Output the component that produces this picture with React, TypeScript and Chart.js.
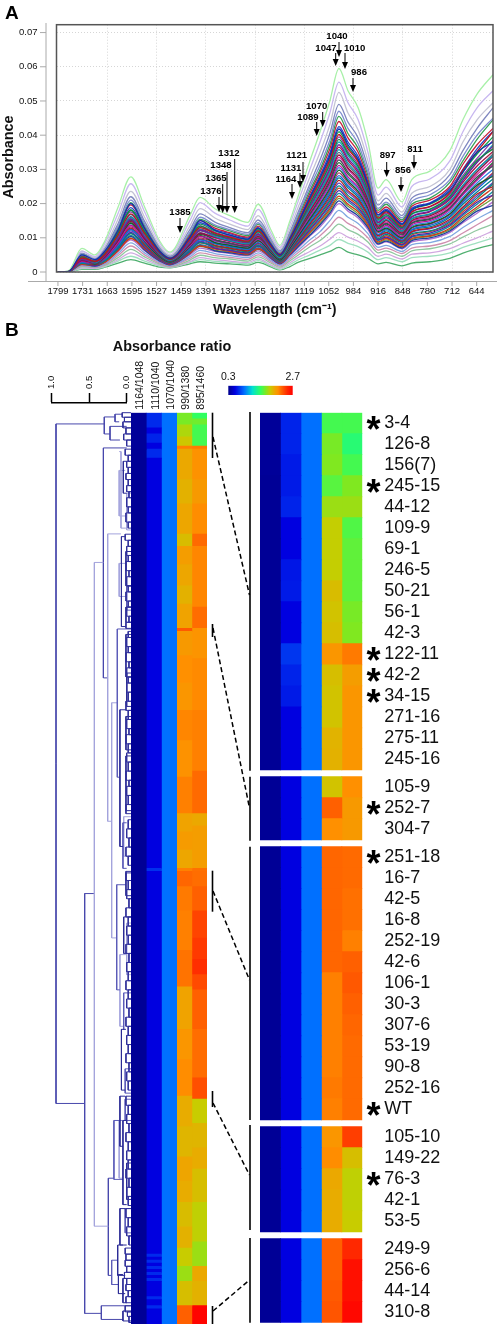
import React, { useEffect, useRef } from "react";
import { Chart, registerables } from "chart.js";

Chart.register(...registerables);
Chart.defaults.font.family = "'Liberation Sans', Arial, sans-serif";
Chart.defaults.color = "#111";

// ---------- Panel A data (absorbance x 1e-4 at each wavenumber) ----------
const wavenumbers = [1799,1770,1733,1697,1669,1633,1598,1560,1518,1490,1435,1407,1366,1325,1275,1247,1210,1187,1159,1137,1104,1076,1049,1024,999,971,944,916,894,850,823,773,718,682,643,599];
const xTickLabels = [1799,1731,1663,1595,1527,1459,1391,1323,1255,1187,1119,1052,984,916,848,780,712,644];
const yTickValues = [0,0.01,0.02,0.03,0.04,0.05,0.06,0.07];
const spectra = [
[0,3,69,50,92,190,278,190,90,58,165,218,185,165,145,198,120,78,150,220,325,410,500,595,530,480,380,245,270,205,270,295,355,445,520,577],
[0,3,60,45,85,172,258,176,84,55,150,203,172,152,134,183,110,72,140,205,300,380,465,555,495,445,350,225,248,190,250,272,325,410,480,530],
[0,2,62,42,76,155,236,160,76,50,135,185,158,140,124,165,100,66,128,188,278,350,430,525,465,415,325,208,230,175,230,250,300,380,445,495],
[0,2,55,40,70,142,220,148,72,47,124,170,146,130,115,152,94,62,118,174,258,328,405,490,438,392,306,196,216,165,216,236,285,355,420,480],
[0,2,50,37,66,134,210,140,68,45,116,160,138,124,110,144,88,58,112,166,248,312,385,470,420,375,292,186,204,158,206,226,270,338,400,450],
[0,2,52,36,64,130,203,136,66,44,113,154,134,120,106,140,86,57,108,160,238,300,372,455,405,362,283,180,198,152,198,216,262,325,388,445],
[0,2,46,35,60,124,196,130,64,42,108,150,128,115,102,134,82,54,104,154,230,292,360,440,392,350,272,174,190,147,192,210,250,315,372,420],
[0,2,48,34,58,120,188,125,62,41,104,144,124,112,99,130,80,52,100,148,222,282,348,425,380,338,264,168,184,142,186,202,244,300,360,412],
[0,1,44,33,56,116,182,120,60,40,100,140,120,108,95,125,77,50,96,144,214,272,335,410,366,325,255,162,178,138,180,198,235,292,345,395],
[0,1,42,31,54,112,176,116,58,38,97,135,116,104,92,122,74,48,93,138,206,262,322,395,352,314,246,156,172,132,174,190,228,282,332,385],
[0,1,43,30,52,108,168,112,56,37,93,130,112,100,88,116,72,47,90,134,198,252,312,380,340,302,236,150,165,128,168,182,218,270,322,372],
[0,1,38,29,50,104,162,108,54,36,90,125,108,97,85,112,69,45,86,128,190,242,298,365,326,290,226,144,158,122,160,176,212,262,310,352],
[0,1,40,28,48,100,156,104,52,34,86,120,103,93,82,108,66,43,83,123,182,232,286,350,312,278,218,138,152,118,154,168,202,250,298,345],
[0,1,36,27,46,96,150,100,50,33,83,115,99,89,78,103,63,41,80,118,175,222,274,335,300,266,208,132,146,113,148,160,194,240,285,328],
[0,1,34,26,44,92,144,96,48,32,79,110,95,85,75,99,60,39,76,112,167,212,262,320,286,255,198,126,140,108,142,154,186,228,272,320],
[0,1,32,25,42,88,138,92,46,31,76,105,90,81,71,94,57,37,73,107,159,202,250,305,272,243,190,120,132,102,134,146,176,218,260,300],
[0,1,30,24,40,84,132,88,44,29,72,100,86,77,68,90,54,35,69,102,152,192,238,290,260,230,180,115,126,98,128,140,168,208,248,290],
[0,1,29,23,38,80,125,84,42,28,69,95,82,73,64,85,51,33,66,97,144,182,226,275,246,218,170,108,120,92,122,132,160,198,234,272],
[0,1,27,22,36,76,120,80,40,26,65,90,77,69,61,80,48,31,62,92,136,172,214,260,232,206,162,102,114,88,116,126,150,186,222,262],
[0,1,26,21,34,72,113,75,38,25,61,85,73,65,57,76,45,29,59,86,128,162,202,245,218,194,152,96,106,82,108,118,142,176,210,245],
[0,1,24,20,32,68,107,71,36,24,58,80,69,61,54,71,43,27,55,81,120,152,190,230,206,182,143,92,100,78,102,110,134,166,198,235],
[0,1,22,19,30,64,100,67,34,22,54,75,64,58,50,66,40,25,52,76,113,142,178,215,192,170,134,85,94,72,95,104,124,154,184,215],
[0,1,21,18,28,60,94,62,32,21,50,70,60,54,47,62,37,23,48,70,105,132,166,200,178,158,124,80,88,68,88,96,116,144,172,205],
[0,0,19,16,25,54,85,56,29,19,45,63,54,48,42,56,33,20,43,63,94,118,150,180,160,142,112,72,78,60,80,86,104,130,155,180],
[0,0,17,14,23,48,76,50,26,17,40,56,48,43,37,50,29,17,38,56,84,106,133,160,142,126,100,64,70,54,70,76,92,114,138,165],
[0,0,15,13,20,42,66,44,23,15,35,49,42,38,32,44,25,14,33,49,74,92,116,140,124,110,88,56,62,46,62,68,82,102,122,140],
[0,0,12,11,18,36,56,38,20,14,30,42,36,32,28,38,20,11,27,42,60,76,96,115,102,90,72,46,52,38,52,56,68,84,100,120],
[0,0,10,10,16,32,46,32,18,13,28,36,31,28,24,33,17,8,22,35,50,64,78,95,84,74,58,36,42,30,42,46,56,72,85,100],
[0,0,8,8,14,26,36,26,14,12,24,30,26,24,20,28,14,6,16,28,40,50,60,72,58,50,40,24,28,18,26,30,40,55,68,80],
];
const spectraMid = [
[0,1,50,36,62,122,200,128,60,40,102,150,122,108,96,128,78,50,98,142,218,276,340,418,372,330,258,166,180,140,182,200,238,292,350,380],
[0,1,41,31,52,108,170,112,58,38,95,130,114,102,90,120,74,49,94,140,210,266,328,402,360,322,252,158,176,134,176,192,232,298,352,410],
[0,1,44,30,54,114,180,118,56,37,98,134,110,100,88,118,72,46,90,132,200,256,316,388,346,308,240,154,168,130,170,184,222,276,326,360],
[0,1,36,29,48,98,155,102,54,36,88,122,108,96,86,110,70,47,88,130,194,246,304,372,332,296,230,146,162,126,162,178,216,268,320,368],
[0,1,39,27,49,102,160,106,52,34,87,124,104,92,82,110,66,42,84,124,186,236,292,358,318,284,222,140,154,120,156,170,206,254,300,340],
[0,1,33,28,45,94,148,98,50,33,82,112,101,90,80,104,64,42,82,120,178,226,280,342,304,272,212,134,150,114,150,164,198,246,292,338],
[0,1,37,25,44,96,152,98,47,31,80,114,94,84,75,100,60,38,77,114,170,216,268,328,292,260,204,130,142,110,144,156,188,232,278,310],
[0,1,31,26,41,86,136,92,48,32,76,104,92,83,74,96,59,39,75,110,163,208,256,312,278,248,194,122,136,104,138,150,182,226,268,315],
[0,1,34,23,42,90,142,90,44,29,74,106,86,78,70,92,55,35,70,104,155,198,244,298,266,236,186,118,128,100,130,142,170,212,254,280],
[0,1,28,24,37,78,124,86,43,28,68,94,84,75,66,86,53,34,68,100,148,188,232,282,252,224,176,110,124,94,124,136,164,204,242,285],
[0,1,30,21,38,82,128,80,40,26,68,96,78,70,62,84,50,32,64,94,140,178,220,268,238,212,166,106,116,90,118,128,154,190,228,250],
[0,1,25,22,33,70,112,78,39,26,62,86,76,68,59,78,47,30,60,90,132,168,208,252,224,200,156,98,110,86,112,120,146,182,216,258],
[0,1,27,19,34,72,116,72,36,24,60,88,70,63,56,76,44,28,58,84,124,158,196,238,212,188,148,94,102,80,104,114,138,170,204,225],
[0,1,22,20,29,62,98,68,35,23,55,76,68,60,52,68,42,26,53,80,116,148,184,222,198,176,138,88,98,74,98,106,128,160,190,225],
[0,1,24,17,30,66,104,64,32,21,54,78,62,56,50,68,39,24,50,74,108,138,172,208,184,164,130,82,90,70,92,100,120,148,178,195],
];
const spectraColors = ["#a8f0a8","#c8b8f0","#c4c4d4","#8088c0","#7f8fd0","#38a058","#c8203c","#2848c8","#18a050","#8838a8","#18a8b8","#a81848","#5a6a78","#d828a8","#207038","#3080e0","#b03060","#00808a","#6040c0","#d04020","#1890a0","#70a040","#b070d0","#80a8e0","#d090b0","#90c8a0","#d0a8e0","#a0e0c0","#50b070"];
const spectraMidColors = ["#1030b0","#c01020","#108840","#7020a0","#0898b0","#901040","#404858","#c010a0","#106028","#1868d8","#b02020","#008880","#4828b0","#d03818","#2040a0"];
// label, text centre x, text y, arrow x, arrow start y, arrow tip y (page pixels)
const peakNotes: [string, number, number, number, number, number][] = [
["1385",180,212,180,218,233],["1376",211,191,219,197,212],["1365",216,178,222.7,184,213],["1348",221,165,227,172,213],["1312",229,153,234.7,159,213],
["1040",337,36,339,42,57],["1047",326,48,335.7,53,66],["1010",354.7,48,345,53,69],["986",359,72,353,78,92],["1070",316.7,106,322.7,112,127],["1089",308,117,316.7,122,136],
["1121",296.7,155,303,162,182],["1131",291,168,300,173,188],["1164",286,179,292,184,199],["897",387.7,155,386.7,162,177],["856",403,170,401,177,192],["811",415,149,414,155,169],
];

// ---------- Panel B: colour scale ----------
const colourStops: [number, string][] = [[0.3,"#00008c"],[0.55,"#0000e0"],[0.9,"#0070ff"],[1.2,"#00e0d0"],[1.5,"#30ff60"],[1.7,"#80e820"],[1.86,"#c8cc00"],[2.0,"#e8ac00"],[2.15,"#ff9000"],[2.3,"#ff6000"],[2.5,"#ff2800"],[2.7,"#ff0000"]];
const ratioLabels = ["1164/1048","1110/1040","1070/1040","990/1380","895/1460"];

// ---------- Overview heat map: [ratio value, number of consecutive rows] per column ----------
const overviewCol1: [number, number][] = [[0.34,12],[0.33,288]];
const overviewCol2: [number, number][] = [[0.68,5],[0.55,2],[0.66,3],[0.55,2],[0.68,3],[0.55,135],[0.7,1],[0.55,126],[0.68,1],[0.55,1],[0.68,1],[0.55,1],[0.68,1],[0.55,1],[0.68,1],[0.55,1],[0.68,1],[0.55,5],[0.68,1],[0.55,2],[0.68,1],[0.55,5]];
const overviewCol3: [number, number][] = [[0.9,300]];
const overviewCol4: [number, number][] = [[1.68,4],[1.8,4],[1.88,3],[2.2,1],[2.02,10],[1.98,8],[2.03,10],[1.93,4],[2.08,6],[2.03,7],[1.98,6],[2.05,8],[2.32,1],[2.1,8],[2.15,9],[2.12,9],[2.18,10],[2.14,12],[2.2,12],[2.05,6],[2.09,6],[2.03,6],[2.2,1],[2.28,5],[2.22,8],[2.2,13],[2.24,12],[2.05,14],[2.12,10],[2.16,12],[2.0,10],[1.96,10],[2.04,8],[2.0,7],[1.93,8],[1.98,7],[1.86,6],[1.76,5],[1.92,8],[2.3,6]];
const overviewCol5: [number, number][] = [[1.5,2],[1.66,2],[1.55,7],[2.22,1],[2.14,10],[2.1,8],[2.16,10],[2.27,4],[2.18,20],[2.26,7],[2.13,10],[2.17,17],[2.2,20],[2.27,14],[2.02,4],[2.08,14],[2.25,1],[2.26,5],[2.3,8],[2.4,9],[2.44,7],[2.48,5],[2.38,5],[2.3,13],[2.26,16],[2.36,7],[1.86,8],[1.96,8],[2.0,7],[1.92,11],[1.84,13],[1.76,8],[2.02,5],[1.98,8],[2.68,6]];
const overviewCols = [overviewCol1, overviewCol2, overviewCol3, overviewCol4, overviewCol5];

// ---------- Detail heat map ----------
const sampleGroups = [
["3-4","126-8","156(7)","245-15","44-12","109-9","69-1","246-5","50-21","56-1","42-3","122-11","42-2","34-15","271-16","275-11","245-16"],
["105-9","252-7","304-7"],
["251-18","16-7","42-5","16-8","252-19","42-6","106-1","30-3","307-6","53-19","90-8","252-16","WT"],
["105-10","149-22","76-3","42-1","53-5"],
["249-9","256-6","44-14","310-8"],
];
const starredSamples = ["3-4","245-15","122-11","42-2","34-15","252-7","251-18","WT","76-3"];
const detailCol1 = [0.34,0.34,0.34,0.33,0.33,0.33,0.33,0.33,0.33,0.33,0.33,0.33,0.33,0.33,0.33,0.33,0.33,0.33,0.33,0.33,0.33,0.33,0.33,0.33,0.33,0.33,0.33,0.33,0.33,0.33,0.33,0.33,0.33,0.33,0.33,0.33,0.33,0.33,0.33,0.33,0.33,0.33];
const detailCol2 = [0.66,0.66,0.63,0.63,0.66,0.55,0.55,0.62,0.63,0.55,0.55,0.72,0.66,0.63,0.55,0.55,0.55,0.55,0.55,0.55,0.55,0.55,0.55,0.55,0.55,0.55,0.55,0.55,0.55,0.55,0.55,0.55,0.55,0.55,0.55,0.55,0.55,0.55,0.55,0.55,0.55,0.55];
const detailCol3 = [0.9,0.9,0.9,0.9,0.9,0.9,0.9,0.9,0.9,0.9,0.9,0.9,0.9,0.9,0.9,0.9,0.9,0.9,0.9,0.9,0.9,0.9,0.9,0.9,0.9,0.9,0.9,0.9,0.9,0.9,0.9,0.9,0.9,0.9,0.9,0.9,0.9,0.9,0.9,0.9,0.9,0.9];
const detailCol4 = [1.55,1.68,1.7,1.6,1.76,1.85,1.85,1.85,1.93,1.9,1.92,2.12,1.92,1.9,1.9,1.97,1.98,1.9,2.3,2.15,2.28,2.28,2.28,2.28,2.28,2.28,2.2,2.2,2.2,2.2,2.2,2.22,2.2,2.12,2.16,2.02,2.0,2.0,2.3,2.3,2.32,2.34];
const detailCol5 = [1.55,1.45,1.55,1.7,1.76,1.58,1.62,1.62,1.62,1.68,1.7,2.22,2.08,2.12,2.12,2.12,2.12,2.15,2.1,2.1,2.27,2.27,2.25,2.25,2.2,2.3,2.33,2.3,2.28,2.27,2.27,2.27,2.27,2.42,1.92,1.84,1.84,1.86,2.5,2.62,2.62,2.66];
const detailCols = [detailCol1, detailCol2, detailCol3, detailCol4, detailCol5];

// ---------- Dendrogram: [node distance, top row, bottom row, top child distance, bottom child distance] ----------
const leaf = -0.057;
const trunkBranches: number[][] = [
[0.94,3.7,227.4,0.298,0.559],[0.559,158.3,296.5,0.43,0.337],[0.31,11.6,87.3,0.0,0.253],[0.298,1.4,7,0.155,0.222],
[0.155,0.5,3,0.06,0.1],[0.222,4.5,9,0.0,0.09],[0.337,294,298.5,leaf,0.045],[0.244,252,284,0.17,0.2],
];
const paleBranches: number[][] = [
[0.43,49.3,267.8,0.31,0.244],[0.253,39.9,134.5,0.076,0.2],[0.2,95.5,172.9,0.125,0.133],
[0.1,19,34,0.02,0.01],[0.1,49.6,60.5,0.02,0.01],[0.09,178.4,202,0.01,0.04],[0.1,233,252,0.03,0.06],
[0.076,12.8,38,0.1,0.01],[0.0,26.5,38.6,leaf,leaf],[0.04,133,146,leaf,leaf],[0.0,168,185,leaf,leaf],
];
const midBranches: number[][] = [
[0.125,71.2,120,leaf,0.09],[0.133,155.4,190,0.01,0.09],[0.17,233,252.4,0.07,0.05],[0.2,279,287,0.12,0.11],
[0.05,135,150,0.0,0.0],[0.04,191,203,leaf,0.05],[0.02,216,224,leaf,leaf],[0.0,57,65,leaf,leaf],[0.02,226,233,leaf,leaf],[0.02,262,270,leaf,leaf],
];
const darkBranches: number[][] = [
[0.045,16,26.5,0.0,0.0],[0.07,40.8,70.4,0.01,0.01],[0.01,45.7,57,leaf,leaf],[0.01,64,69,leaf,leaf],[0.01,73,87,leaf,leaf],[0.0,85.7,96.7,leaf,leaf],
[0.09,97.8,142.8,0.01,0.05],[0.01,100,111,leaf,leaf],[0.01,113,131,leaf,leaf],[0.01,151.5,159,leaf,leaf],[0.04,166,178,leaf,0.0],
[0.07,203,223,0.01,0.02],[0.09,225,241.5,0.02,0.05],[0.05,233,260.7,0.0,0.0],[0.0,247,259,leaf,leaf],[0.09,262,274,0.02,0.0],
[0.11,283.7,290,0.05,0.02],[0.05,285,293,0.0,0.0],[0.12,274,284,0.05,0.02],[0.05,295.7,299,leaf,leaf],
];
const twigs: number[][] = [
[0.06,0,1.5],[0.03,1.5,3],[0.05,3,5],[0.01,5,7],[0.04,7,9],[0.0,9,11],[0.02,12,14],[-0.02,14,16],[0.0,16,18],[-0.02,18,20],[0.01,20,22],[-0.02,22,24],[0.0,24,26],[-0.03,26,28],
[0.0,28,31],[-0.02,31,33],[0.01,33,36],[-0.02,36,38],[0.02,40,42],[-0.02,42,44],[0.0,44,47],[-0.02,47,49],[0.01,49,52],[-0.03,52,54],[0.0,54,57],[-0.02,57,59],[0.01,59,62],[-0.02,62,64],
[0.0,64,67],[-0.03,67,69],[0.01,69,71],[-0.02,72,74],[0.0,74,77],[-0.02,77,79],[0.01,79,82],[-0.03,82,84],[0.0,84,87],[-0.02,87,89],[0.0,89,92],[-0.02,92,95],[0.01,95,98],[-0.02,98,101],
[0.0,101,104],[-0.03,104,106],[0.01,106,109],[-0.02,109,112],[0.0,112,115],[-0.02,115,118],[0.01,118,121],[-0.03,121,123],[0.0,123,126],[-0.02,126,129],[0.01,129,132],[-0.02,134,137],
[0.0,137,140],[-0.03,140,143],[0.01,143,146],[-0.02,146,149],[0.01,151,154],[-0.02,154,157],[0.0,157,160],[-0.03,160,163],[0.01,163,166],[-0.02,166,169],[0.0,169,172],[-0.02,172,175],
[0.01,175,178],[-0.03,178,181],[0.0,181,184],[-0.02,184,187],[0.01,187,190],[-0.02,190,193],[0.0,193,196],[-0.03,196,199],[0.01,199,202],[-0.02,202,205],[0.0,205,208],[-0.02,208,211],
[0.01,211,214],[-0.03,214,217],[0.0,217,220],[-0.02,220,223],[0.01,225,228],[-0.02,228,231],[0.0,231,234],[-0.03,234,237],[0.01,237,240],[-0.02,240,243],[0.0,243,246],[-0.02,246,249],
[0.01,249,252],[-0.03,252,255],[0.0,255,258],[-0.02,258,261],[0.01,262,265],[-0.02,265,268],[0.0,268,271],[-0.03,271,274],[0.02,275,277],[0.01,277,279],[0.02,279,281],[0.0,281,283],
[0.03,283,285],[0.0,285,287],[0.01,287,289],[-0.02,289,291],[0.01,291,293],[0.02,294,296],[-0.01,296,297.5],[-0.03,297.5,299.5],
];

// ---------- helpers ----------
function colourOf(v: number) {
  const parse = (h: string) => [1, 3, 5].map((i) => parseInt(h.slice(i, i + 2), 16));
  for (let i = 1; i < colourStops.length; i++) {
    const [v0, c0] = colourStops[i - 1];
    const [v1, c1] = colourStops[i];
    if (v <= v1) {
      const t = Math.max(0, (v - v0) / (v1 - v0));
      const a = parse(c0), b = parse(c1);
      return `rgb(${a.map((x, k) => Math.round(x + (b[k] - x) * t)).join(",")})`;
    }
  }
  return colourStops[colourStops.length - 1][1];
}
const fixW = (w: number) => (s: any) => { s.width = w; };
const fixH = (h: number) => (s: any) => { s.height = h; };

function makeSpectra(c: HTMLCanvasElement) {
  const notes = {
    id: "notes",
    afterDraw(ch: any) {
      const g = ch.ctx, a = ch.chartArea;
      g.save();
      // offset axes with their fine ticks
      g.strokeStyle = "#aaa"; g.lineWidth = 1;
      g.beginPath();
      g.moveTo(46, 23); g.lineTo(46, 281.5);
      g.moveTo(28, 281.5); g.lineTo(497, 281.5);
      yTickValues.forEach((v) => { const y = ch.scales.y.getPixelForValue(v); g.moveTo(40, y); g.lineTo(46, y); });
      xTickLabels.forEach((v) => { const x = ch.scales.x.getPixelForValue(v); g.moveTo(x, 281.5); g.lineTo(x, 286); });
      g.stroke();
      // plot frame
      g.strokeStyle = "#555"; g.lineWidth = 1.5;
      g.strokeRect(a.left, a.top, a.right - a.left, a.bottom - a.top);
      // axis title
      g.fillStyle = "#111";
      g.font = "bold 14.4px 'Liberation Sans'";
      g.textAlign = "center"; g.textBaseline = "middle";
      g.translate(9, 157); g.rotate(-Math.PI / 2); g.fillText("Absorbance", 0, 0);
      g.rotate(Math.PI / 2); g.translate(-9, -157);
      // peak annotations
      g.font = "bold 9.6px 'Liberation Sans'";
      g.strokeStyle = "#000"; g.lineWidth = 1;
      peakNotes.forEach(([t, tx, ty, ax, y0, y1]) => {
        g.fillStyle = "#000";
        g.fillText(t, tx, ty);
        g.beginPath(); g.moveTo(ax, y0); g.lineTo(ax, y1 - 5); g.stroke();
        g.beginPath(); g.moveTo(ax - 3, y1 - 7); g.lineTo(ax + 3, y1 - 7); g.lineTo(ax, y1); g.closePath(); g.fill();
      });
      g.restore();
    },
  };
  const line = (s: number[], color: string) => ({
    data: s.map((v, k) => ({ x: wavenumbers[k], y: v / 10000 })),
    showLine: true, pointRadius: 0, borderWidth: 1.3, borderColor: color,
    cubicInterpolationMode: "monotone" as const,
  });
  return new Chart(c, {
    type: "scatter",
    data: {
      datasets: [
        ...spectraMid.map((s, i) => line(s, spectraMidColors[i % spectraMidColors.length])),
        ...spectra.map((s, i) => line(s, spectraColors[i % spectraColors.length])),
      ],
    },
    options: {
      animation: false, responsive: false, devicePixelRatio: 1,
      layout: { padding: { top: 23, right: 7, left: 0, bottom: 0 } },
      plugins: { legend: { display: false }, tooltip: { enabled: false } },
      scales: {
        x: {
          type: "linear", reverse: true, min: 599, max: 1803,
          afterBuildTicks: (s: any) => { s.ticks = xTickLabels.map((value) => ({ value })); },
          afterFit: fixH(48),
          border: { display: false, dash: [1, 2] },
          grid: { drawTicks: false, color: (ctx: any) => (ctx.index % 2 === 0 && ctx.index > 0 ? "#ccc" : "transparent"), lineWidth: 0.8 },
          ticks: { autoSkip: false, maxRotation: 0, padding: 14, font: { size: 9.5 }, callback: (v: any) => String(v) },
          title: { display: true, text: "Wavelength (cm\u207B\u00B9)", font: { size: 14.3, weight: "bold" }, padding: { top: 0, bottom: 1 } },
        },
        y: {
          min: 0, max: 0.0723,
          afterBuildTicks: (s: any) => { s.ticks = yTickValues.map((value) => ({ value })); },
          afterFit: fixW(56.5),
          border: { display: false, dash: [1, 2] },
          grid: { drawTicks: false, color: "#ccc", lineWidth: 0.8 },
          ticks: { padding: 19, font: { size: 9.5 }, callback: (v: any) => (v === 0 ? "0" : Number(v).toFixed(2)) },
        },
      },
    } as any,
    plugins: [notes],
  });
}

function makeDendrogram(c: HTMLCanvasElement) {
  const ds = (b: number[], color: string) => {
    const [d, r1, r2, d1 = leaf, d2 = leaf] = b;
    return {
      data: [{ x: d1, y: r1 }, { x: d, y: r1 }, { x: d, y: r2 }, { x: d2, y: r2 }],
      showLine: true, pointRadius: 0, borderWidth: 1, borderColor: color, clip: false, tension: 0,
    };
  };
  return new Chart(c, {
    type: "scatter",
    data: {
      datasets: [
        ...twigs.map((b) => ds(b, "#30309a")),
        ...darkBranches.map((b) => ds(b, "#2c2c96")),
        ...midBranches.map((b) => ds(b, "#5c5cb8")),
        ...paleBranches.map((b) => ds(b, "#a4a4dc")),
        ...trunkBranches.map((b) => ds(b, "#4848ac")),
      ],
    },
    options: {
      animation: false, responsive: false, devicePixelRatio: 1,
      layout: { padding: { left: 51.5, right: 13.3, bottom: 5, top: 0 } },
      plugins: { legend: { display: false }, tooltip: { enabled: false } },
      scales: {
        x: {
          type: "linear", position: "top", reverse: true, min: 0, max: 1,
          afterBuildTicks: (s: any) => { s.ticks = [0, 0.5, 1].map((value) => ({ value })); },
          afterFit: fixH(38),
          border: { color: "#000", width: 1.5 },
          grid: { drawOnChartArea: false, tickLength: 10, color: "#000", tickWidth: 1.5 },
          ticks: { minRotation: 90, maxRotation: 90, padding: 4, labelOffset: 11.5, font: { size: 9.5 }, callback: (v: any) => Number(v).toFixed(1) },
        },
        y: { type: "linear", reverse: true, min: -3.19, max: 300, display: false },
      },
    } as any,
  });
}

function heatOptions(extraX: any, y: any, padding: any) {
  return {
    animation: false, responsive: false, devicePixelRatio: 1,
    layout: { padding },
    plugins: { legend: { display: false }, tooltip: { enabled: false } },
    scales: { x: { type: "category", labels: ratioLabels, ...extraX }, y },
    datasets: { bar: { grouped: false, barPercentage: 1, categoryPercentage: 1, inflateAmount: 0.4, borderWidth: 0 } },
  } as any;
}

function makeOverview(c: HTMLCanvasElement) {
  const datasets = overviewCols.map((runs, col) => {
    let row = 0;
    const data = runs.map(([v, n]) => {
      const cell = { x: ratioLabels[col], y: [row, row + n], v };
      row += n;
      return cell;
    });
    return { data, backgroundColor: data.map((d) => colourOf(d.v)) };
  });
  const heading = {
    id: "heading",
    afterDraw(ch: any) {
      const g = ch.ctx;
      g.save();
      g.fillStyle = "#111";
      g.font = "bold 14.4px 'Liberation Sans'";
      g.textAlign = "center"; g.textBaseline = "middle";
      g.fillText("Absorbance ratio", 72, 7);
      g.restore();
    },
  };
  return new Chart(c, {
    type: "bar",
    data: { datasets } as any,
    options: heatOptions(
      {
        position: "top",
        afterFit: fixH(72.7),
        border: { display: false },
        grid: { display: false, drawTicks: false },
        ticks: { minRotation: 90, maxRotation: 90, autoSkip: false, padding: 3, labelOffset: 14.5, font: { size: 10.5 } },
      },
      { type: "linear", reverse: true, min: 0, max: 300, display: false },
      { left: 31, right: 33, bottom: 5, top: 0 }
    ),
    plugins: [heading],
  });
}

const detailLeft = 208, detailTop = 370;
// black brackets and dashed links between the two maps (page pixels)
const overviewBars = [[412.7, 458], [624, 637], [870.7, 911.7], [1091, 1107], [1306, 1324]];
const detailBars = [[412, 770.7], [776.7, 840.7], [846.7, 1120], [1125, 1230], [1238, 1322.7]];
const links = [[437, 595], [628, 808], [891, 980], [1103, 1175], [1311, 1280]];

function makeDetail(c: HTMLCanvasElement) {
  const gap = 0.33;
  const rowStart: number[] = [];
  const names: string[] = [];
  let u = 0;
  sampleGroups.forEach((g) => { g.forEach((n) => { rowStart.push(u); names.push(n); u += 1; }); u += gap; });
  const total = u - gap;
  const centres = rowStart.map((s) => s + 0.5);
  const datasets = detailCols.map((vals, col) => {
    const data = vals.map((v, i) => ({ x: ratioLabels[col], y: [rowStart[i], rowStart[i] + 1], v }));
    return { data, backgroundColor: data.map((d) => colourOf(d.v)) };
  });
  const overlay = {
    id: "overlay",
    afterDraw(ch: any) {
      const g = ch.ctx;
      g.save();
      g.translate(-detailLeft, -detailTop);
      g.strokeStyle = "#000"; g.lineWidth = 1.6;
      const vline = (x: number, a: number, b: number) => { g.beginPath(); g.moveTo(x, a); g.lineTo(x, b); g.stroke(); };
      overviewBars.forEach(([a, b]) => vline(212.5, a, b));
      detailBars.forEach(([a, b]) => vline(250, a, b));
      g.setLineDash([5, 3]); g.lineWidth = 1.5;
      links.forEach(([a, b]) => { g.beginPath(); g.moveTo(213, a); g.lineTo(249.5, b); g.stroke(); });
      g.setLineDash([]);
      g.fillStyle = "#000";
      g.font = "bold 36px 'Liberation Sans'";
      g.textAlign = "center"; g.textBaseline = "alphabetic";
      names.forEach((n, i) => {
        if (starredSamples.includes(n)) {
          g.fillText("*", 373.5, ch.scales.y.getPixelForValue(centres[i]) + detailTop + 19);
        }
      });
      g.restore();
    },
  };
  return new Chart(c, {
    type: "bar",
    data: { datasets } as any,
    options: heatOptions(
      { display: false },
      {
        type: "linear", position: "right", reverse: true, min: 0, max: total,
        afterBuildTicks: (s: any) => { s.ticks = centres.map((value) => ({ value })); },
        afterFit: fixW(137.7),
        border: { display: false },
        grid: { display: false, drawTicks: false },
        ticks: {
          autoSkip: false, padding: 22, color: "#111", font: { size: 18 },
          callback: (v: any) => names[centres.indexOf(v)] ?? "",
        },
      },
      { left: 52, right: 0, top: 412.7 - detailTop, bottom: detailTop + 990 - 1322.7 }
    ),
    plugins: [overlay],
  });
}

function makeColourBar(c: HTMLCanvasElement) {
  return new Chart(c, {
    type: "bar",
    data: {
      labels: [""],
      datasets: [{
        data: [[0.3, 2.7]],
        backgroundColor: (ctx: any) => {
          const a = ctx.chart.chartArea;
          if (!a) return "#00f";
          const grad = ctx.chart.ctx.createLinearGradient(a.left, 0, a.right, 0);
          colourStops.forEach(([v, col]) => grad.addColorStop(Math.min(1, (v - 0.3) / 2.4), col));
          return grad;
        },
        barPercentage: 1, categoryPercentage: 1, borderWidth: 0,
      }],
    } as any,
    options: {
      indexAxis: "y",
      animation: false, responsive: false, devicePixelRatio: 1,
      layout: { padding: { left: 13.3, right: 12.3, top: 0, bottom: 3 } },
      plugins: { legend: { display: false }, tooltip: { enabled: false } },
      scales: {
        x: {
          type: "linear", position: "top", min: 0.3, max: 2.7,
          afterBuildTicks: (s: any) => { s.ticks = [0.3, 2.7].map((value) => ({ value })); },
          afterFit: fixH(15.7),
          border: { display: false },
          grid: { display: false, drawTicks: false },
          ticks: { padding: 2, font: { size: 10.5 }, maxRotation: 0, callback: (v: any) => Number(v).toFixed(1) },
        },
        y: { display: false },
      },
    } as any,
  });
}

type Panel = { make: (c: HTMLCanvasElement) => Chart; left: number; top: number; width: number; height: number };
const panels: Panel[] = [
  { make: makeSpectra, left: 0, top: 0, width: 500, height: 320 },
  { make: makeDendrogram, left: 0, top: 365, width: 140, height: 964 },
  { make: makeOverview, left: 100, top: 340, width: 140, height: 989 },
  { make: makeDetail, left: detailLeft, top: detailTop, width: 292, height: 990 },
  { make: makeColourBar, left: 215, top: 370, width: 90, height: 28 },
];

function PanelCanvas({ p }: { p: Panel }) {
  const ref = useRef<HTMLCanvasElement>(null);
  useEffect(() => {
    const chart = p.make(ref.current!);
    return () => chart.destroy();
  }, [p]);
  return (
    <canvas
      ref={ref}
      width={p.width}
      height={p.height}
      style={{ position: "absolute", left: p.left, top: p.top, width: p.width, height: p.height }}
    />
  );
}

const letterStyle: React.CSSProperties = { position: "absolute", fontFamily: "'Liberation Sans'", fontWeight: 700, fontSize: 19, lineHeight: "19px", color: "#000" };

export default function App() {
  return (
    <div style={{ position: "absolute", left: 0, top: 0, width: 500, height: 1329, overflow: "hidden", background: "#fff" }}>
      {panels.map((p, i) => <PanelCanvas key={i} p={p} />)}
      <div style={{ ...letterStyle, left: 5, top: 3 }}>A</div>
      <div style={{ ...letterStyle, left: 5, top: 320 }}>B</div>
    </div>
  );
}
